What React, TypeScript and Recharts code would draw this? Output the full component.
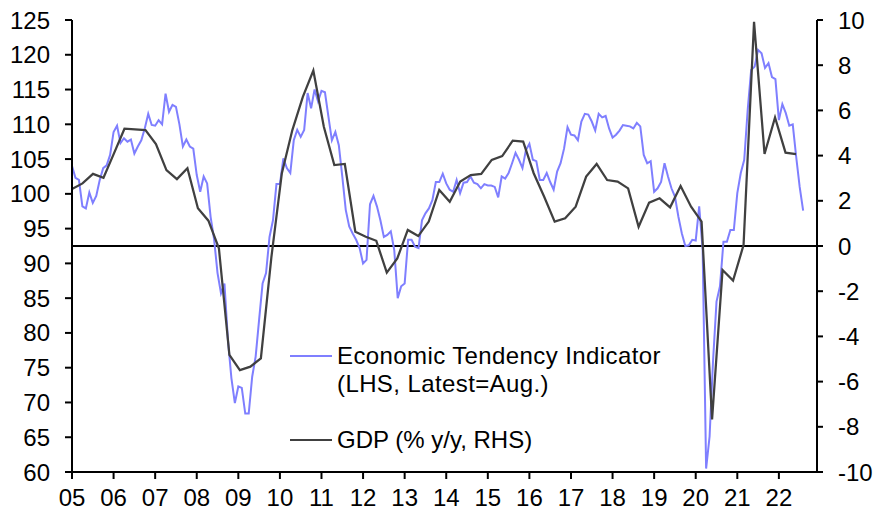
import { LineChart, Line, XAxis, YAxis, ReferenceLine } from "recharts"

const FONT = '"Liberation Sans", Arial, sans-serif'

const yearLabels = ["05", "06", "07", "08", "09", "10", "11", "12", "13", "14", "15", "16", "17", "18", "19", "20", "21", "22"]

// Economic Tendency Indicator, monthly, Jan 2005 - Aug 2022 (LHS)
const etiValues = [
  104.0, 102.3, 102.0, 98.2, 97.9, 100.2, 98.7, 99.7, 102.0, 103.7, 104.1, 105.6,
  108.9, 109.8, 107.3, 108.0, 107.5, 107.8, 105.8, 106.8, 107.7, 109.4, 111.5, 109.9,
  109.8, 110.6, 110.0, 114.4, 111.8, 112.8, 112.5, 110.0, 106.8, 107.8, 106.8, 106.5,
  102.7, 100.3, 102.5, 101.5, 96.7, 93.5, 88.6, 85.7, 87.1, 79.0, 73.5, 69.9,
  72.3, 72.1, 68.4, 68.4, 73.7, 76.6, 81.9, 87.1, 88.6, 93.8, 96.2, 101.4,
  101.4, 105.1, 103.7, 103.0, 107.7, 109.2, 108.2, 109.2, 114.5, 112.3, 115.0, 113.3,
  114.8, 114.6, 111.1, 107.7, 108.9, 107.0, 102.5, 97.7, 95.3, 94.3, 93.4, 92.2,
  90.0, 90.5, 98.5, 99.7, 98.2, 96.2, 93.8, 94.1, 94.6, 91.9, 85.0, 86.7,
  87.1, 93.4, 93.4, 92.4, 92.2, 96.2, 97.2, 97.9, 99.1, 101.7, 101.7, 102.9,
  101.5, 100.6, 100.3, 102.0, 100.1, 101.6, 101.7, 102.5, 101.6, 101.4, 100.8, 101.4,
  101.2, 101.2, 101.0, 99.5, 102.5, 102.2, 103.0, 104.4, 105.9, 104.9, 103.7, 106.3,
  107.2, 104.9, 104.7, 102.0, 102.0, 103.0, 101.7, 100.6, 103.2, 104.4, 106.5, 109.6,
  108.5, 108.4, 107.7, 110.4, 111.5, 111.4, 110.4, 109.1, 111.5, 111.0, 111.2, 109.4,
  108.1, 108.5, 109.1, 109.9, 109.8, 109.7, 109.4, 110.2, 109.7, 105.6, 104.4, 104.7,
  100.3, 100.8, 101.7, 104.4, 102.5, 100.8, 99.6, 96.7, 94.3, 92.5, 92.6, 93.4,
  93.3, 98.2, 92.0, 60.5, 65.1, 76.0, 84.5, 86.7, 93.1, 93.1, 94.8, 94.8,
  100.1, 103.0, 104.9, 112.1, 117.8, 118.3, 120.7, 120.2, 118.1, 118.8, 116.8, 116.5,
  110.6, 112.9, 111.6, 109.8, 110.0, 105.3, 101.0, 97.6,
]

// GDP % y/y, quarterly, Q1 2005 - Q2 2022 (RHS)
const gdpValues = [
  2.52, 2.77, 3.19, 3.02, 4.1, 5.19, 5.16, 5.13,
  4.51, 3.36, 2.96, 3.44, 1.67, 1.12, -0.1, -4.82,
  -5.49, -5.34, -4.97, -0.5, 3.22, 5.13, 6.6, 7.76,
  5.28, 3.58, 3.63, 0.63, 0.41, 0.23, -1.18, -0.55,
  0.71, 0.44, 1.08, 2.48, 1.96, 2.85, 3.14, 3.19,
  3.81, 3.98, 4.66, 4.62, 3.22, 2.18, 1.08, 1.23,
  1.74, 3.07, 3.63, 2.92, 2.85, 2.55, 0.85, 1.92,
  2.11, 1.71, 2.65, 1.74, 1.08, -7.67, -1.06, -1.53,
  0.04, 9.92, 4.07, 5.69, 4.13, 4.07,
]

const leftTicks = [60, 65, 70, 75, 80, 85, 90, 95, 100, 105, 110, 115, 120, 125]
const rightTicks = [-10, -8, -6, -4, -2, 0, 2, 4, 6, 8, 10]
const monthTicks = yearLabels.map((_, i) => i * 12)

const etiData = etiValues.map((v, i) => ({ m: i, eti: v }))
const gdpData = gdpValues.map((v, i) => ({ q: i, gdp: v }))

const ETI_COLOR = "#7f7fff"
const GDP_COLOR = "#404040"

const axisStyle = { stroke: "#000", strokeWidth: 2 }
const tickStyle = { fill: "#000", fontSize: 24, fontFamily: FONT }

export default function App() {
  return (
    <div style={{ position: "absolute", left: 0, top: 0, width: 888, height: 514, background: "#fff", fontFamily: FONT }}>
      <LineChart width={888} height={514} margin={{ top: 20, right: 0, bottom: 0, left: 0 }}>
        <XAxis
          xAxisId="m"
          type="number"
          dataKey="m"
          domain={[0, 215]}
          ticks={monthTicks}
          interval={0}
          tickFormatter={(v: number) => yearLabels[v / 12]}
          height={42}
          axisLine={axisStyle}
          tickLine={axisStyle}
          tickSize={7}
          tickMargin={10}
          tick={tickStyle}
          allowDataOverflow
        />
        <XAxis xAxisId="q" type="number" dataKey="q" domain={[0, 71]} hide allowDataOverflow />
        <YAxis
          yAxisId="left"
          domain={[60, 125]}
          ticks={leftTicks}
          interval={0}
          width={72}
          axisLine={axisStyle}
          tickLine={axisStyle}
          tickSize={7}
          tickMargin={15}
          tick={tickStyle}
          allowDataOverflow
        />
        <YAxis
          yAxisId="right"
          orientation="right"
          domain={[-10, 10]}
          ticks={rightTicks}
          interval={0}
          width={71}
          axisLine={axisStyle}
          tickLine={axisStyle}
          tickSize={6}
          tickMargin={15}
          tick={tickStyle}
          allowDataOverflow
        />
        <ReferenceLine xAxisId="m" yAxisId="right" y={0} stroke="#000" strokeWidth={2} />
        <Line
          xAxisId="m"
          yAxisId="left"
          data={etiData}
          dataKey="eti"
          type="linear"
          stroke={ETI_COLOR}
          strokeWidth={2}
          dot={false}
          isAnimationActive={false}
        />
        <Line
          xAxisId="q"
          yAxisId="right"
          data={gdpData}
          dataKey="gdp"
          type="linear"
          stroke={GDP_COLOR}
          strokeWidth={2.25}
          dot={false}
          isAnimationActive={false}
        />
      </LineChart>

      {/* legend */}
      <div style={{ position: "absolute", left: 290, top: 355, width: 42, height: 2, background: ETI_COLOR }} />
      <div style={{ position: "absolute", left: 337, top: 342, fontSize: 24, lineHeight: "28px", letterSpacing: "0.4px", color: "#000", whiteSpace: "nowrap" }}>
        Economic Tendency Indicator
        <br />
        (LHS, Latest=Aug.)
      </div>
      <div style={{ position: "absolute", left: 290, top: 439, width: 42, height: 2, background: GDP_COLOR }} />
      <div style={{ position: "absolute", left: 337, top: 426, fontSize: 24, lineHeight: "28px", color: "#000", whiteSpace: "nowrap" }}>
        GDP (% y/y, RHS)
      </div>
    </div>
  )
}
